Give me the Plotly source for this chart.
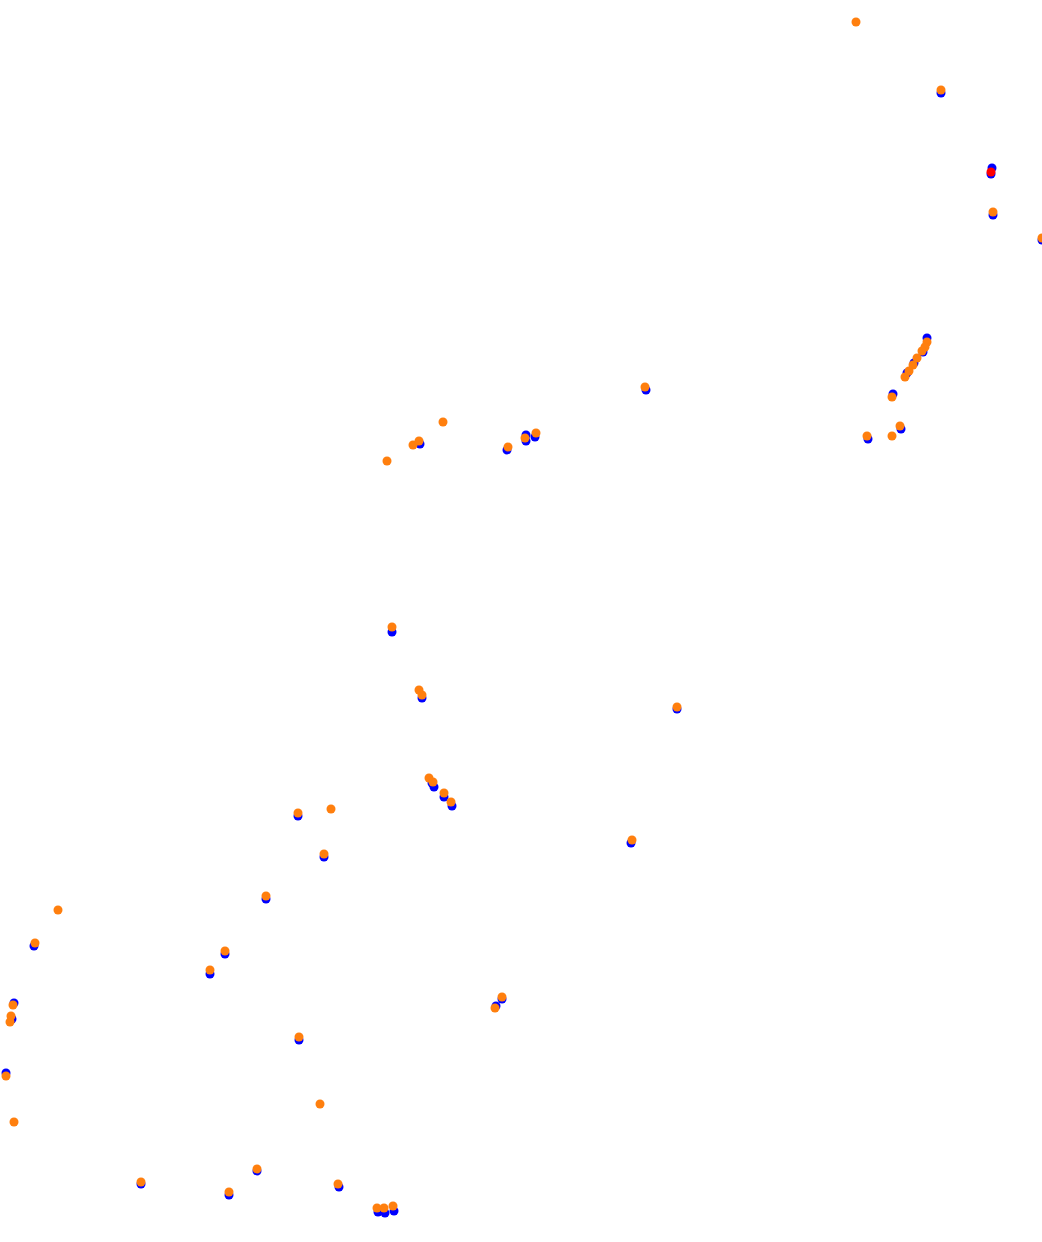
import plotly.graph_objects as go

# Series values (x, y)
blue_x = [941, 992, 991, 993, 1042, 927, 923, 914, 907, 893, 901, 868,
          646, 420, 507, 526, 526, 535, 392, 422, 432, 434, 444, 452,
          677, 298, 324, 631, 266, 34, 225, 210, 14, 12, 6, 502, 496,
          299, 141, 229, 257, 339, 378, 385, 394]
blue_y = [93, 168, 174, 215, 240, 338, 352, 363, 373, 394, 429, 439,
          390, 444, 450, 435, 441, 437, 632, 698, 783, 787, 797, 806,
          709, 816, 857, 843, 899, 946, 954, 974, 1003, 1019, 1073, 999, 1006,
          1040, 1184, 1195, 1171, 1187, 1212, 1213, 1211]

red_x = [991]
red_y = [172]

orange_x = [856, 941, 993, 1042, 927, 925, 922, 917, 913, 909, 905, 892, 900, 892, 867,
            645, 443, 387, 413, 419, 508, 525, 536, 392, 419, 422, 429, 433, 444, 451,
            677, 298, 331, 324, 632, 266, 58, 35, 225, 210, 13, 11, 10, 6, 14,
            502, 495, 299, 320, 141, 229, 257, 338, 377, 384, 393]
orange_y = [22, 90, 212, 238, 342, 347, 351, 358, 365, 371, 377, 397, 426, 436, 436,
            387, 422, 461, 445, 441, 447, 438, 433, 627, 690, 695, 778, 782, 793, 802,
            707, 813, 809, 854, 840, 896, 910, 943, 951, 970, 1005, 1016, 1022, 1076, 1122,
            997, 1008, 1037, 1104, 1182, 1192, 1169, 1184, 1208, 1208, 1206]

fig = go.Figure()
fig.add_trace(go.Scatter(x=blue_x, y=blue_y, mode="markers",
                         marker=dict(color="#0000ff", size=9), showlegend=False))
fig.add_trace(go.Scatter(x=red_x, y=red_y, mode="markers",
                         marker=dict(color="#ff0000", size=9), showlegend=False))
fig.add_trace(go.Scatter(x=orange_x, y=orange_y, mode="markers",
                         marker=dict(color="#ff7f0e", size=9), showlegend=False))

fig.update_layout(
    width=1042, height=1242,
    margin=dict(l=0, r=0, t=0, b=0),
    paper_bgcolor="white", plot_bgcolor="white",
    hovermode=False,
    xaxis=dict(range=[0, 1042], visible=False, showgrid=False, zeroline=False),
    yaxis=dict(range=[1242, 0], visible=False, showgrid=False, zeroline=False),
)
fig.write_html("out.html",
               config={"displayModeBar": False, "staticPlot": True},
               post_script="document.body.style.margin='0';document.body.style.overflow='hidden';")
